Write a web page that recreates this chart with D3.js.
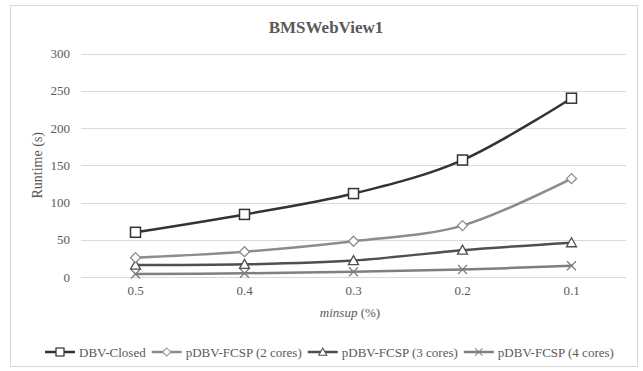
<!DOCTYPE html>
<html>
<head>
<meta charset="utf-8">
<script src="https://cdn.jsdelivr.net/npm/d3@7"></script>
<style>
  html, body { margin: 0; padding: 0; background: #fff; }
  svg { display: block; }
  text { font-family: "Liberation Serif", "Times New Roman", serif; }
</style>
</head>
<body>
<svg id="chart" width="643" height="371"></svg>
<script>
// minsup thresholds (%) along the x axis
const categories = ["0.5", "0.4", "0.3", "0.2", "0.1"];

// runtime in seconds for each algorithm
const dbvClosed = [60, 84, 112, 157, 240];
const pdbv2 = [26, 34, 48, 69, 132];
const pdbv3 = [16, 17, 22, 36, 46];
const pdbv4 = [4, 5, 7, 10, 15];

const yTicks = [0, 50, 100, 150, 200, 250, 300];

const seriesNames = ["DBV-Closed", "pDBV-FCSP (2 cores)", "pDBV-FCSP (3 cores)", "pDBV-FCSP (4 cores)"];

const series = [
  { name: seriesNames[0], values: dbvClosed, color: "#333333", marker: "square" },
  { name: seriesNames[1], values: pdbv2, color: "#8c8c8c", marker: "diamond" },
  { name: seriesNames[2], values: pdbv3, color: "#4f4f4f", marker: "triangle" },
  { name: seriesNames[3], values: pdbv4, color: "#7f7f7f", marker: "cross" }
];

const svg = d3.select("#chart");
const plot = { left: 81, right: 626, top: 53.5, bottom: 277 };

// chart area frame
svg.append("rect")
  .attr("x", 10.5).attr("y", 5.5)
  .attr("width", 627).attr("height", 361)
  .attr("fill", "#fff").attr("stroke", "#d9d9d9").attr("stroke-width", 1);

const x = d3.scaleBand().domain(categories).range([plot.left, plot.right]);
const y = d3.scaleLinear().domain([0, 300]).range([plot.bottom, plot.top]);

// horizontal gridlines
svg.append("g")
  .selectAll("line")
  .data(yTicks)
  .join("line")
  .attr("x1", plot.left).attr("x2", plot.right)
  .attr("y1", d => Math.round(y(d)) + 0.5).attr("y2", d => Math.round(y(d)) + 0.5)
  .attr("stroke", "#d9d9d9").attr("stroke-width", 1);

// y axis labels
const yAxis = d3.axisLeft(y).tickValues(yTicks).tickSize(0).tickPadding(11);
const gy = svg.append("g").attr("transform", `translate(${plot.left},0)`).call(yAxis);
gy.select(".domain").remove();
gy.selectAll("text")
  .attr("fill", "#595959")
  .style("font-size", "13px")
  .style("font-family", "'Liberation Serif', serif");

// x axis labels
const xAxis = d3.axisBottom(x).tickSize(0).tickPadding(9);
const gx = svg.append("g").attr("transform", `translate(0,${plot.bottom})`).call(xAxis);
gx.select(".domain").remove();
gx.selectAll("text")
  .attr("fill", "#595959")
  .style("font-size", "13px")
  .style("font-family", "'Liberation Serif', serif");

// title
svg.append("text")
  .attr("x", 326).attr("y", 33)
  .attr("text-anchor", "middle")
  .attr("fill", "#595959")
  .style("font-size", "17px")
  .style("font-weight", "bold")
  .text("BMSWebView1");

// axis titles
svg.append("text")
  .attr("transform", `translate(42,${(plot.top + plot.bottom) / 2}) rotate(-90)`)
  .attr("text-anchor", "middle")
  .attr("fill", "#595959")
  .style("font-size", "14px")
  .text("Runtime (s)");

const xt = svg.append("text")
  .attr("x", 350).attr("y", 317)
  .attr("text-anchor", "middle")
  .attr("fill", "#595959")
  .style("font-size", "13px");
xt.append("tspan").style("font-style", "italic").text("minsup");
xt.append("tspan").text(" (%)");

// marker drawing
function drawMarker(g, type, color) {
  if (type === "square") {
    g.append("rect").attr("x", -5).attr("y", -5).attr("width", 10).attr("height", 10)
      .attr("fill", "#fff").attr("stroke", color).attr("stroke-width", 1.5);
  } else if (type === "diamond") {
    g.append("path").attr("d", "M0,-5L5,0L0,5L-5,0Z")
      .attr("fill", "#fff").attr("stroke", color).attr("stroke-width", 1.3);
  } else if (type === "triangle") {
    g.append("path").attr("d", "M0,-5L5,4L-5,4Z")
      .attr("fill", "#fff").attr("stroke", color).attr("stroke-width", 1.3);
  } else if (type === "cross") {
    g.append("path").attr("d", "M-4.5,-4.5L4.5,4.5M-4.5,4.5L4.5,-4.5")
      .attr("fill", "none").attr("stroke", color).attr("stroke-width", 1.3);
  }
}

const cx = d => x(d) + x.bandwidth() / 2;
const line = d3.line()
  .x((d, i) => cx(categories[i]))
  .y(d => y(d))
  .curve(d3.curveCatmullRom.alpha(0));

// draw series from the bottom one up so the top lines sit above
series.slice().reverse().forEach(s => {
  svg.append("path")
    .datum(s.values)
    .attr("d", line)
    .attr("fill", "none")
    .attr("stroke", s.color)
    .attr("stroke-width", 2.5)
    .attr("stroke-linejoin", "round")
    .attr("stroke-linecap", "round");
  s.values.forEach((v, i) => {
    const g = svg.append("g").attr("transform", `translate(${cx(categories[i])},${y(v)})`);
    drawMarker(g, s.marker, s.color);
  });
});

// legend
const legend = svg.append("g").attr("transform", "translate(0,352)");
let lx = 45;
series.forEach(s => {
  const item = legend.append("g").attr("transform", `translate(${lx},0)`);
  item.append("line").attr("x1", 0).attr("x2", 30).attr("y1", 0).attr("y2", 0)
    .attr("stroke", s.color).attr("stroke-width", 2.5);
  const m = item.append("g").attr("transform", "translate(15,0) scale(0.8)");
  drawMarker(m, s.marker, s.color);
  const t = item.append("text").attr("x", 34).attr("y", 0).attr("dy", "0.35em")
    .attr("fill", "#595959").style("font-size", "13px").text(s.name);
  lx += 34 + t.node().getComputedTextLength() + 6;
});
</script>
</body>
</html>
